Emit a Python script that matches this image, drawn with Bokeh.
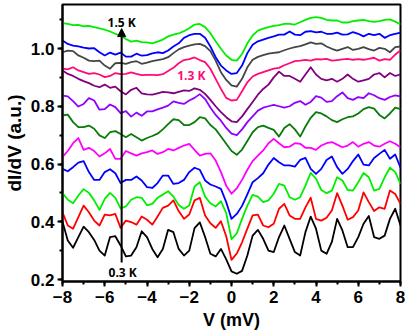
from bokeh.plotting import figure
from bokeh.models import Arrow, NormalHead, Label, SingleIntervalTicker, PrintfTickFormatter
from bokeh.embed import file_html
from bokeh.resources import INLINE

# bias voltage (mV)
V = [-8.0, -7.75, -7.5, -7.25, -7.0, -6.75, -6.5, -6.25, -6.0, -5.75, -5.5, -5.25, -5.0,
     -4.75, -4.5, -4.25, -4.0, -3.75, -3.5, -3.25, -3.0, -2.75, -2.5, -2.25, -2.0, -1.75,
     -1.5, -1.25, -1.0, -0.75, -0.5, -0.25, 0.0, 0.25, 0.5, 0.75, 1.0, 1.25, 1.5, 1.75, 2.0,
     2.25, 2.5, 2.75, 3.0, 3.25, 3.5, 3.75, 4.0, 4.25, 4.5, 4.75, 5.0, 5.25, 5.5, 5.75, 6.0,
     6.25, 6.5, 6.75, 7.0, 7.25, 7.5, 7.75, 8.0]

# dI/dV curves (a.u.), bottom (0.3 K) to top (1.5 K)
c_black = [0.40, 0.335, 0.31, 0.347, 0.383, 0.364, 0.337, 0.30, 0.283, 0.347, 0.35, 0.318, 0.28,
           0.283, 0.312, 0.367, 0.347, 0.306, 0.277, 0.306, 0.372, 0.364, 0.306, 0.283, 0.30, 0.378,
           0.398, 0.347, 0.289, 0.28, 0.306, 0.27,
           0.228, 0.22, 0.23, 0.283, 0.352, 0.372, 0.341, 0.30, 0.295, 0.347, 0.387, 0.341, 0.295,
           0.283, 0.364, 0.418, 0.376, 0.30, 0.289, 0.33, 0.41, 0.37, 0.312, 0.312, 0.347, 0.393,
           0.42, 0.347, 0.341, 0.352, 0.41, 0.445, 0.387]
c_red = [0.433, 0.387, 0.376, 0.416, 0.456, 0.433, 0.404, 0.387, 0.425, 0.422, 0.427, 0.379, 0.404,
         0.399, 0.39, 0.418, 0.407, 0.39, 0.418, 0.448, 0.456, 0.474, 0.437, 0.41, 0.425, 0.474,
         0.483, 0.422, 0.395, 0.379, 0.402, 0.35,
         0.268, 0.29, 0.329, 0.376, 0.422, 0.425, 0.387, 0.381, 0.393, 0.445, 0.462, 0.422, 0.41,
         0.41, 0.45, 0.483, 0.41, 0.404, 0.414, 0.439, 0.499, 0.456, 0.407, 0.416, 0.439, 0.502,
         0.468, 0.437, 0.45, 0.445, 0.508, 0.496, 0.462]
c_green = [0.499, 0.476, 0.464, 0.491, 0.513, 0.50, 0.474, 0.441, 0.479, 0.50, 0.483, 0.446, 0.453,
           0.476, 0.485, 0.483, 0.457, 0.462, 0.483, 0.494, 0.506, 0.487, 0.458, 0.445, 0.456, 0.522,
           0.537, 0.487, 0.464, 0.453, 0.471, 0.43,
           0.34, 0.36, 0.41, 0.456, 0.493, 0.487, 0.468, 0.474, 0.497, 0.531, 0.525, 0.485, 0.476,
           0.485, 0.525, 0.569, 0.549, 0.51, 0.499, 0.508, 0.554, 0.543, 0.51, 0.508, 0.537, 0.569,
           0.554, 0.508, 0.514, 0.554, 0.587, 0.572, 0.531]
c_blue = [0.583, 0.575, 0.589, 0.605, 0.61, 0.572, 0.545, 0.545, 0.572, 0.582, 0.568, 0.534, 0.545,
          0.545, 0.557, 0.543, 0.52, 0.517, 0.534, 0.56, 0.56, 0.531, 0.534, 0.545, 0.572, 0.587,
          0.58, 0.543, 0.529, 0.522, 0.514, 0.468,
          0.41, 0.427, 0.455, 0.495, 0.537, 0.551, 0.568, 0.598, 0.621, 0.606, 0.595, 0.595, 0.591,
          0.614, 0.621, 0.583, 0.566, 0.583, 0.614, 0.626, 0.589, 0.566, 0.583, 0.61, 0.633, 0.598,
          0.595, 0.621, 0.635, 0.649, 0.618, 0.633, 0.587]
c_magenta = [0.625, 0.645, 0.672, 0.69, 0.649, 0.656, 0.645, 0.626, 0.637, 0.652, 0.618, 0.618, 0.645,
             0.637, 0.629, 0.637, 0.641, 0.647, 0.635, 0.641, 0.652, 0.647, 0.656, 0.664, 0.67, 0.649,
             0.629, 0.635, 0.637, 0.612, 0.572, 0.525,
             0.497, 0.516, 0.545, 0.58, 0.61, 0.629, 0.647, 0.672, 0.687, 0.672, 0.658, 0.66, 0.672,
             0.67, 0.656, 0.656, 0.649, 0.664, 0.672, 0.676, 0.667, 0.658, 0.664, 0.676, 0.66, 0.67,
             0.676, 0.664, 0.66, 0.67, 0.679, 0.67, 0.658]
c_dkgreen = [0.768, 0.771, 0.745, 0.728, 0.728, 0.733, 0.722, 0.699, 0.69, 0.71, 0.714, 0.704, 0.693,
             0.704, 0.693, 0.681, 0.69, 0.697, 0.705, 0.72, 0.738, 0.755, 0.752, 0.735, 0.735, 0.745,
             0.762, 0.758, 0.735, 0.72, 0.695, 0.67,
             0.645, 0.632, 0.65, 0.68, 0.71, 0.728, 0.733, 0.725, 0.718, 0.695, 0.725, 0.738, 0.72,
             0.695, 0.73, 0.76, 0.78, 0.775, 0.765, 0.752, 0.745, 0.755, 0.762, 0.765, 0.775, 0.79,
             0.797, 0.792, 0.77, 0.758, 0.775, 0.795, 0.79]
c_violet = [0.837, 0.834, 0.818, 0.799, 0.808, 0.828, 0.82, 0.788, 0.79, 0.806, 0.797, 0.776, 0.783,
            0.764, 0.778, 0.767, 0.782, 0.782, 0.789, 0.795, 0.802, 0.817, 0.812, 0.808, 0.82, 0.829,
            0.842, 0.825, 0.796, 0.77, 0.75, 0.725,
            0.705, 0.70, 0.72, 0.745, 0.765, 0.785, 0.795, 0.80, 0.805, 0.80, 0.795, 0.80, 0.812,
            0.818, 0.805, 0.815, 0.835, 0.83, 0.815, 0.818, 0.835, 0.848, 0.828, 0.822, 0.832, 0.828,
            0.845, 0.838, 0.828, 0.822, 0.832, 0.838, 0.834]
c_purple = [0.924, 0.912, 0.905, 0.895, 0.887, 0.88, 0.871, 0.866, 0.875, 0.864, 0.868, 0.852, 0.841,
            0.857, 0.864, 0.845, 0.841, 0.84, 0.845, 0.85, 0.848, 0.845, 0.85, 0.855, 0.853, 0.862,
            0.857, 0.843, 0.822, 0.80, 0.78, 0.762,
            0.748, 0.745, 0.765, 0.79, 0.815, 0.84, 0.86, 0.875, 0.90, 0.92, 0.905, 0.905, 0.895,
            0.885, 0.91, 0.935, 0.91, 0.895, 0.89, 0.895, 0.885, 0.895, 0.91, 0.895, 0.885, 0.89,
            0.895, 0.91, 0.915, 0.90, 0.915, 0.905, 0.91]
c_pink = [0.93, 0.928, 0.935, 0.924, 0.918, 0.912, 0.915, 0.91, 0.901, 0.905, 0.915, 0.911, 0.912,
          0.917, 0.912, 0.908, 0.909, 0.909, 0.908, 0.911, 0.922, 0.933, 0.949, 0.96, 0.963, 0.969,
          0.96, 0.953, 0.93, 0.895, 0.86, 0.829,
          0.82, 0.822, 0.852, 0.883, 0.903, 0.912, 0.918, 0.924, 0.93, 0.933, 0.942, 0.949, 0.956,
          0.958, 0.961, 0.958, 0.963, 0.962, 0.964, 0.958, 0.96, 0.962, 0.964, 0.961, 0.963, 0.961,
          0.964, 0.968, 0.958, 0.963, 0.961, 0.979, 0.993]
c_gray = [0.987, 0.993, 0.991, 0.976, 0.968, 0.958, 0.956, 0.958, 0.941, 0.93, 0.949, 0.95, 0.947,
          0.953, 0.956, 0.947, 0.951, 0.956, 0.96, 0.963, 0.97, 0.984, 0.997, 1.005, 1.01, 1.014,
          1.016, 1.008, 0.991, 0.958, 0.918, 0.891,
          0.872, 0.868, 0.895, 0.935, 0.961, 0.971, 0.977, 0.982, 0.985, 0.987, 0.994, 1.0, 1.005,
          1.008, 1.014, 1.021, 1.016, 1.018, 1.007, 0.999, 0.993, 0.999, 1.005, 0.995, 0.999, 1.005,
          0.998, 0.993, 1.002, 0.999, 0.987, 1.005, 1.007]
c_blue2 = [1.028, 1.016, 1.01, 1.007, 1.003, 1.0, 1.001, 0.987, 0.976, 0.986, 0.979, 0.986, 0.972,
           0.972, 0.982, 0.975, 0.977, 0.983, 0.987, 0.984, 0.993, 1.007, 1.018, 1.037, 1.046, 1.051,
           1.051, 1.037, 1.007, 0.97, 0.941, 0.924,
           0.912, 0.915, 0.941, 0.984, 1.013, 1.025, 1.031, 1.037, 1.042, 1.048, 1.048, 1.059, 1.048,
           1.046, 1.058, 1.06, 1.056, 1.058, 1.051, 1.051, 1.055, 1.048, 1.049, 1.057, 1.051, 1.042,
           1.051, 1.046, 1.051, 1.037, 1.046, 1.051, 1.055]
c_lime = [1.088, 1.085, 1.081, 1.082, 1.077, 1.078, 1.074, 1.07, 1.065, 1.059, 1.051, 1.045, 1.033,
          1.024, 1.027, 1.022, 1.021, 1.018, 1.024, 1.031, 1.042, 1.048, 1.052, 1.06, 1.07, 1.083,
          1.085, 1.074, 1.053, 1.025, 0.999, 0.976,
          0.961, 0.958, 0.981, 1.018, 1.045, 1.062, 1.069, 1.074, 1.078, 1.081, 1.085, 1.085, 1.083,
          1.091, 1.099, 1.106, 1.109, 1.106, 1.099, 1.097, 1.097, 1.09, 1.09, 1.095, 1.097, 1.099,
          1.095, 1.092, 1.095, 1.099, 1.101, 1.093, 1.083]

series = [c_black, c_red, c_green, c_blue, c_magenta, c_dkgreen,
          c_violet, c_purple, c_pink, c_gray, c_blue2, c_lime]
colors = ["#000000", "#ff0000", "#00ee00", "#0000ff", "#ff00ff", "#0a7a0a",
          "#8f00ff", "#800080", "#ff0a78", "#454545", "#0000ff", "#00ee00"]

# temperature arrow and labels
arrow_v = -5.2
arrow_y = [0.259, 1.069]
labels = [("1.5 K", -5.2, 1.09, "#000000"),
          ("0.3 K", -5.15, 0.224, "#000000"),
          ("1.3 K", -1.9, 0.908, "#ff0a78")]

p = figure(width=415, height=332, x_range=(-8, 8), y_range=(0.1931, 1.1524),
           output_backend="svg", toolbar_location=None,
           min_border_left=61, min_border_right=15, min_border_top=4, min_border_bottom=51)
p.background_fill_color = "white"
p.border_fill_color = "white"
p.xgrid.visible = False
p.ygrid.visible = False
p.outline_line_color = "black"
p.outline_line_width = 2
p.outline_line_alpha = 1.0

for ys, col in zip(series, colors):
    p.line(V, ys, line_color=col, line_width=1.8, line_join="round")

p.add_layout(Arrow(end=NormalHead(size=8, fill_color="black", line_color="black", line_width=1),
                   x_start=arrow_v, y_start=arrow_y[0], x_end=arrow_v, y_end=arrow_y[1],
                   line_color="black", line_width=2))
for txt, x, y, col in labels:
    p.add_layout(Label(x=x, y=y, text=txt, text_align="center", text_baseline="middle",
                       text_font="Open Sans", text_font_style="bold", text_font_size="12px",
                       text_color=col))

p.xaxis.ticker = SingleIntervalTicker(interval=2, num_minor_ticks=2)
p.yaxis.ticker = SingleIntervalTicker(interval=0.2, num_minor_ticks=2)
p.yaxis.formatter = PrintfTickFormatter(format="%.1f")
for ax in (p.xaxis, p.yaxis):
    ax.axis_line_width = 2
    ax.axis_line_color = "black"
    ax.major_tick_line_width = 2
    ax.minor_tick_line_width = 2
    ax.major_tick_in = 0
    ax.major_tick_out = 5
    ax.minor_tick_in = 0
    ax.minor_tick_out = 3
    ax.major_label_text_font = "Liberation Sans"
    ax.major_label_text_font_style = "bold"
    ax.major_label_text_font_size = "17px"
    ax.major_label_text_color = "black"
    ax.axis_label_text_font = "Liberation Sans"
    ax.axis_label_text_font_style = "bold"
    ax.axis_label_text_color = "black"
p.xaxis.axis_label = "V (mV)"
p.yaxis.axis_label = "dI/dV (a.u.)"
p.xaxis.axis_label_text_font_size = "18px"
p.yaxis.axis_label_text_font_size = "19px"
p.xaxis.major_label_standoff = 4
p.yaxis.major_label_standoff = 3
p.xaxis.axis_label_standoff = 4
p.yaxis.axis_label_standoff = 3

open("out.html", "w").write(file_html(p, INLINE))
